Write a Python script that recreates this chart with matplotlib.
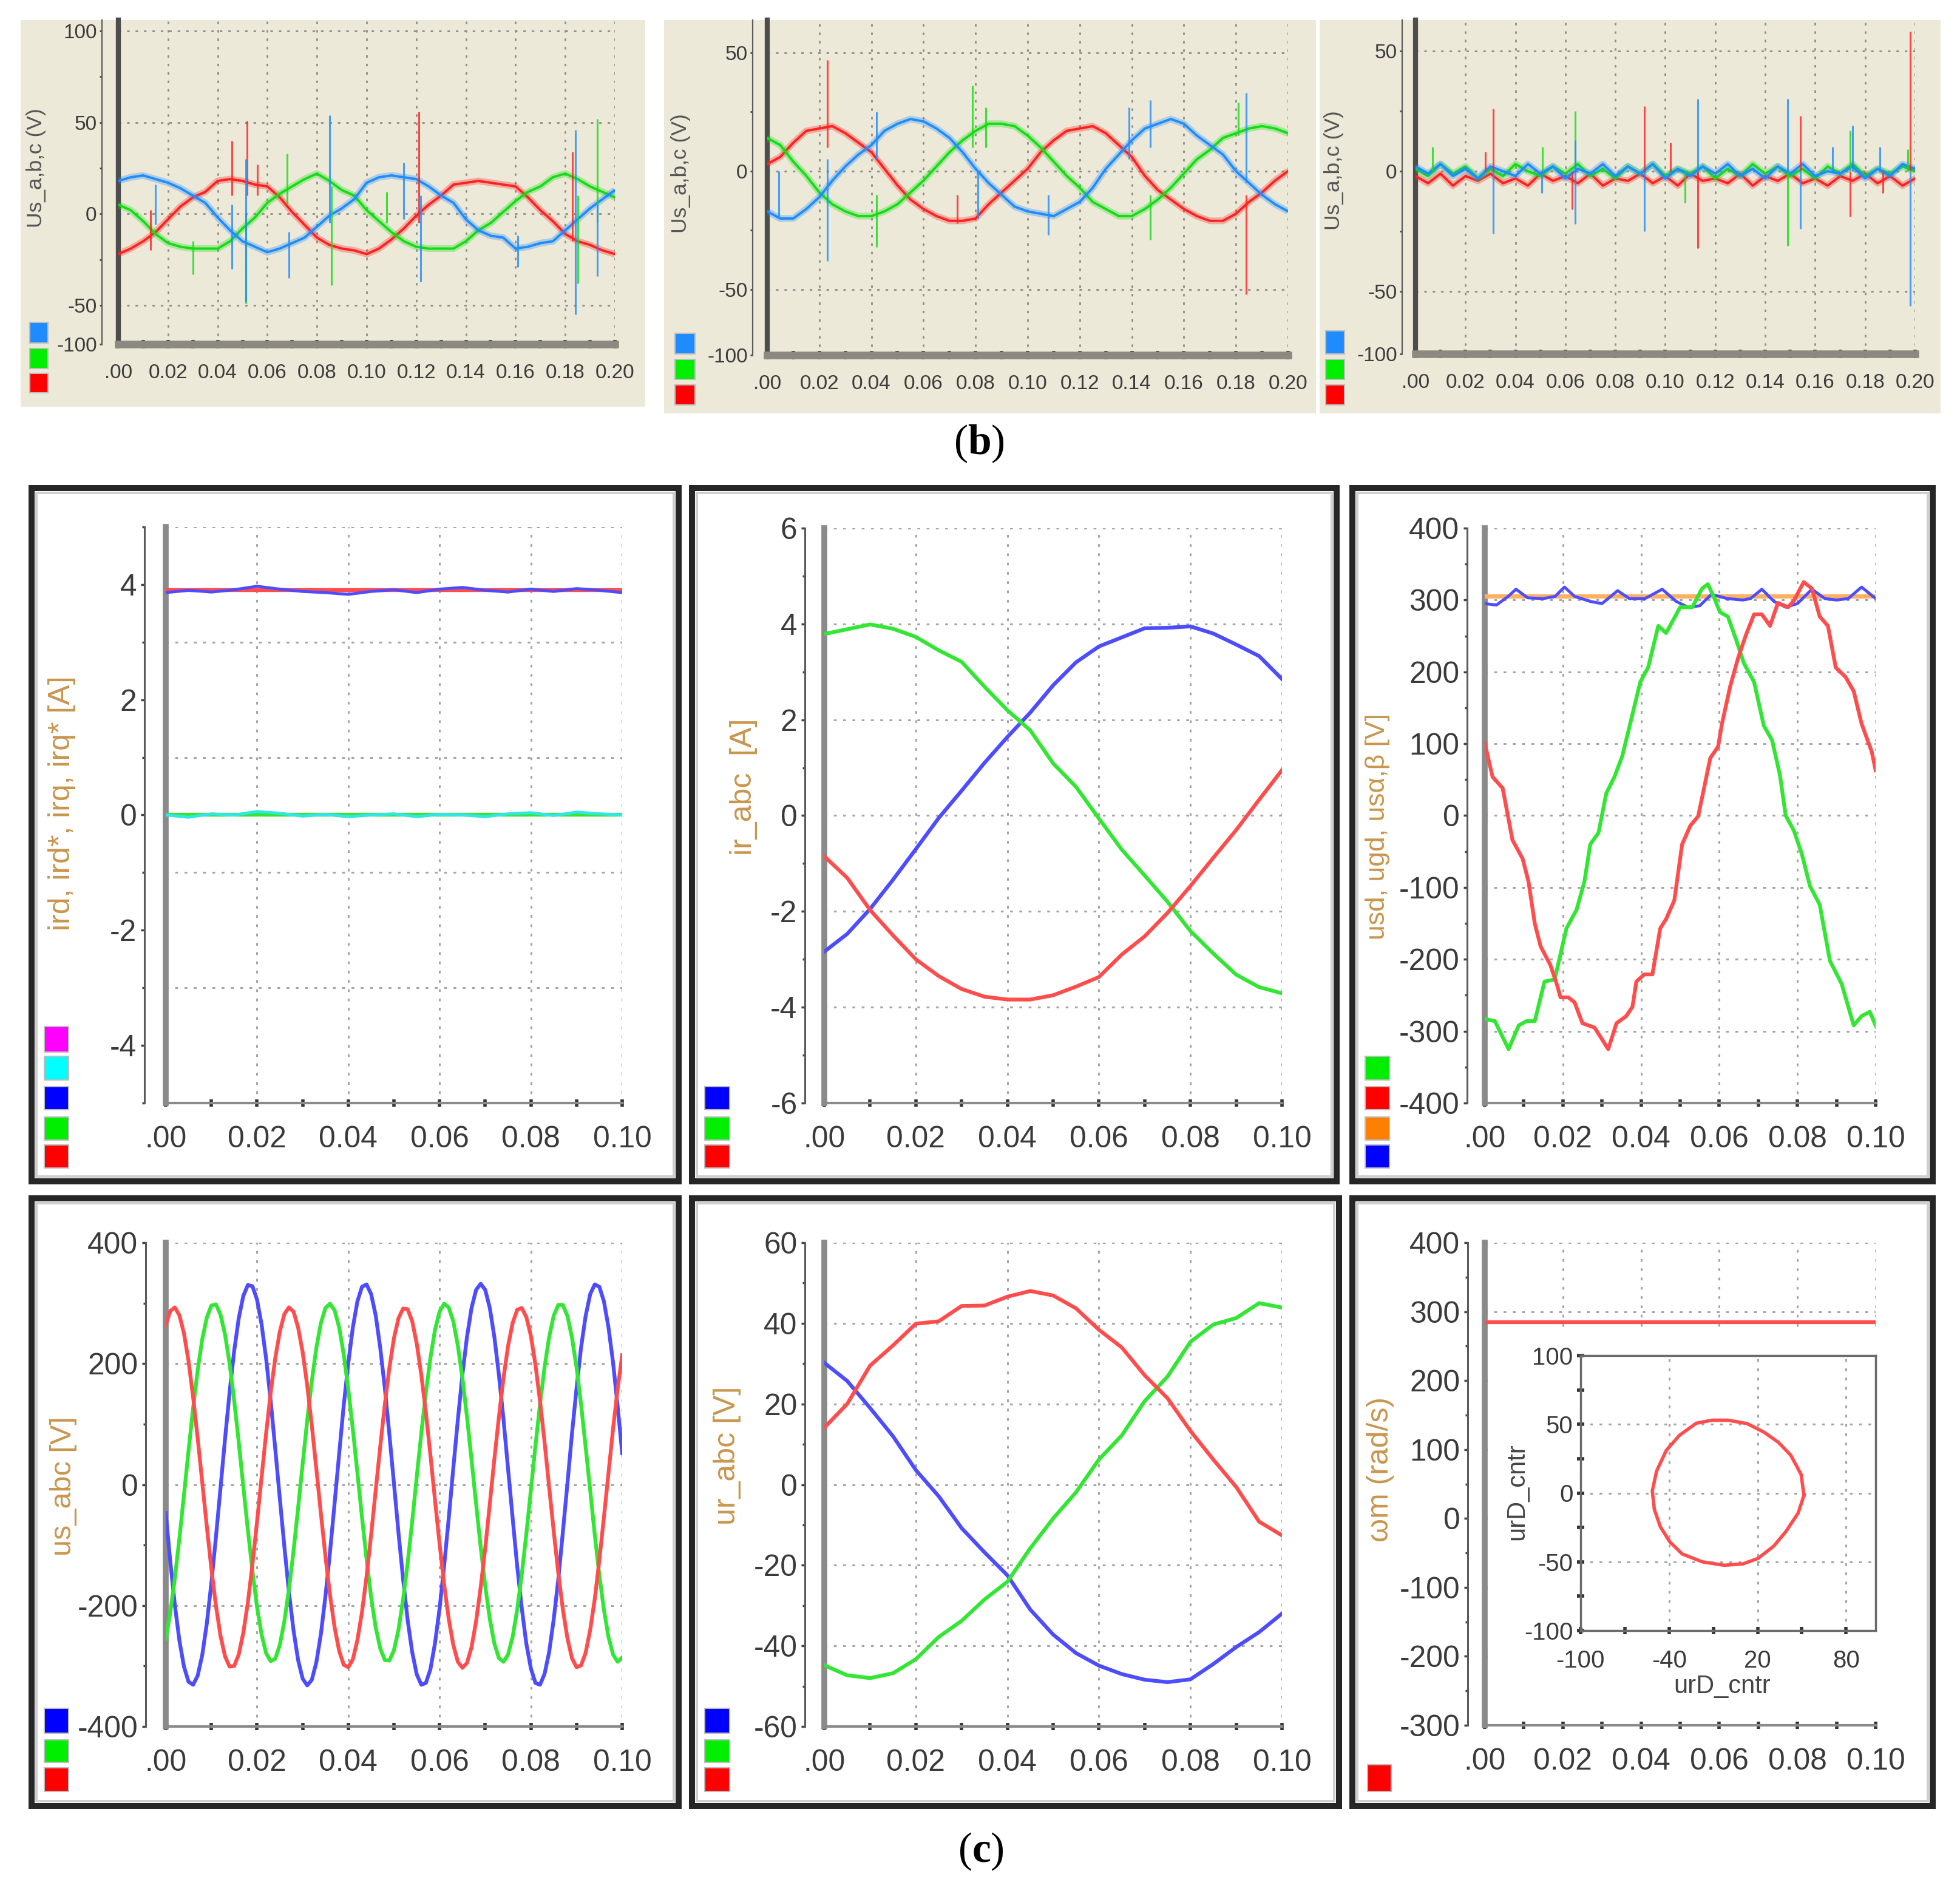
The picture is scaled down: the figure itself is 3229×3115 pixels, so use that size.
import matplotlib
matplotlib.use("Agg")
import matplotlib.pyplot as plt
import numpy as np
from matplotlib import font_manager
from matplotlib.patches import Rectangle

W, H = 3230, 3115
PX = 0.72  # points per pixel at dpi 100

_names = {f.name for f in font_manager.fontManager.ttflist}
if "Liberation Sans Narrow" in _names:
    TICK_FONT, TS, TSB = "Liberation Sans Narrow", 1.0, 1.0
else:
    TICK_FONT, TS, TSB = "Liberation Sans", 0.85, 0.96

plt.rcParams["font.family"] = [TICK_FONT, "DejaVu Sans"]
plt.rcParams["mathtext.fontset"] = "custom"
plt.rcParams["mathtext.rm"] = "Liberation Serif"
plt.rcParams["mathtext.bf"] = "Liberation Serif:bold"

# ---------------- (b) stator voltages, 0 .. 0.2 s ----------------
b_t = np.linspace(0, 0.2, 41)
b_xticks = [0, 0.02, 0.04, 0.06, 0.08, 0.10, 0.12, 0.14, 0.16, 0.18, 0.20]
b_xminor = [0.01, 0.03, 0.05, 0.07, 0.09, 0.11, 0.13, 0.15, 0.17, 0.19]
b_xlabels = [".00", "0.02", "0.04", "0.06", "0.08", "0.10", "0.12", "0.14", "0.16", "0.18", "0.20"]

b1_blue = [18, 20, 21, 19, 17, 14, 10, 6, -2, -9, -15, -18, -21, -19, -16, -13, -7, -1, 3, 8,
           17, 20, 21, 20, 19, 15, 10, 6, -3, -9, -12, -13, -19, -18, -16, -15, -9, -3, 3, 8, 13]
b1_red = [-22, -19, -15, -10, -3, 4, 9, 12, 18, 19, 18, 16, 15, 9, 1, -6, -13, -17, -19, -20,
          -22, -19, -14, -8, -1, 5, 10, 16, 17, 18, 17, 16, 15, 9, 2, -4, -11, -15, -17, -20, -22]
b1_green = [5, 2, -4, -11, -16, -18, -19, -19, -19, -15, -8, -2, 6, 11, 15, 19, 22, 18, 13, 10,
            2, -4, -10, -15, -18, -19, -19, -19, -15, -9, -5, 1, 7, 12, 15, 20, 22, 19, 15, 12, 9]

b2_red = [3, 6, 12, 17, 18, 19, 16, 12, 8, 1, -6, -12, -16, -19, -21, -21, -20, -14, -9, -4,
          1, 8, 13, 17, 18, 19, 16, 11, 6, -2, -8, -12, -16, -19, -21, -21, -18, -13, -9, -4, 0]
b2_blue = [-17, -20, -20, -16, -11, -4, 2, 7, 11, 17, 20, 22, 21, 18, 14, 8, 1, -5, -10, -15,
           -17, -18, -19, -16, -13, -7, 1, 7, 13, 18, 20, 22, 20, 15, 11, 7, 0, -5, -10, -14, -17]
b2_green = [14, 11, 4, -2, -9, -14, -17, -19, -19, -17, -14, -9, -4, 2, 8, 13, 17, 20, 20, 19,
            15, 10, 4, -2, -7, -13, -16, -19, -19, -16, -12, -7, -1, 5, 9, 14, 16, 18, 19, 18, 16]

b3_red = [-2, -5, -1, -6, -2, -4, -1, -5, -3, -6, -1, -4, -2, -5, -1, -6, -3, -4, -1, -5,
          -2, -6, -1, -4, -3, -5, -1, -6, -2, -4, -1, -5, -3, -6, -2, -4, -1, -5, -2, -6, -3]
b3_green = [1, -2, 3, -1, 2, -3, 1, -2, 3, 0, -2, 2, -1, 3, -2, 1, -3, 2, -1, 3,
            -2, 1, -1, 2, -3, 1, -2, 3, -1, 2, -2, 1, -3, 2, -1, 3, -2, 1, -1, 2, 0]
b3_blue = [2, -1, 3, -2, 1, -3, 2, 0, -2, 3, -1, 2, -3, 1, -1, 3, -2, 2, -1, 3,
           -3, 1, -2, 2, -1, 3, -2, 1, -3, 2, -1, 3, -2, 0, -1, 2, -3, 1, -2, 3, 1]

# switching spikes: (time, low, high)
b1_blue_spk = [(0.015, -6, 16), (0.0458, -30, 5), (0.0514, -48, 30), (0.0686, -35, -10), (0.085, -5, 54),
               (0.115, -3, 28), (0.1217, -37, 10), (0.161, -29, -12), (0.184, -55, 46), (0.193, -34, 5)]
b1_red_spk = [(0.013, -20, 2), (0.0458, 10, 40), (0.0518, 10, 51), (0.056, 10, 27), (0.121, -5, 56),
              (0.183, -15, 34)]
b1_green_spk = [(0.030, -33, -15), (0.0514, -49, 0), (0.068, 5, 33), (0.0857, -39, 15), (0.108, -5, 12),
                (0.185, -38, 10), (0.193, -5, 52)]

b2_blue_spk = [(0.0045, -20, 0), (0.023, -38, 5), (0.042, 5, 25), (0.081, -20, 0), (0.108, -27, -10),
               (0.139, 5, 27), (0.147, 10, 30), (0.184, -5, 33)]
b2_red_spk = [(0.023, 10, 47), (0.073, -22, -10), (0.184, -52, -10)]
b2_green_spk = [(0.042, -32, -10), (0.0787, 10, 36), (0.084, 10, 27), (0.147, -29, -10), (0.181, 15, 29)]

b3_blue_spk = [(0.031, -26, 0), (0.0505, -9, 0), (0.064, -22, 13), (0.0915, -25, 0), (0.113, 0, 30),
               (0.149, 0, 30), (0.154, -24, 0), (0.167, 0, 10), (0.175, 0, 19), (0.186, 0, 10), (0.198, -56, 0)]
b3_red_spk = [(0.028, 0, 8), (0.031, 0, 26), (0.0628, -16, 0), (0.0915, 0, 27), (0.102, 0, 12),
              (0.113, -32, 0), (0.154, 0, 23), (0.174, -19, 0), (0.187, -9, 0), (0.198, 0, 58)]
b3_green_spk = [(0.0067, 0, 10), (0.0509, 0, 10), (0.064, 0, 25), (0.108, -13, 0), (0.149, -31, 0),
                (0.174, 0, 17), (0.197, 0, 9)]

# ---------------- (c) rotor/stator quantities, 0 .. 0.1 s ----------------
c_xticks = [0, 0.02, 0.04, 0.06, 0.08, 0.10]
c_xminor = [0.01, 0.03, 0.05, 0.07, 0.09]
c_xlabels = [".00", "0.02", "0.04", "0.06", "0.08", "0.10"]
c_t21 = np.linspace(0, 0.1, 21)
c_t101 = np.linspace(0, 0.1, 101)
c_flat_t = [0, 0.1]

c1_blue = [3.86, 3.9, 3.87, 3.91, 3.97, 3.92, 3.88, 3.86, 3.83, 3.88, 3.91, 3.86, 3.92, 3.95, 3.9,
           3.87, 3.92, 3.88, 3.93, 3.9, 3.86]
c1_cyan = [0.0, -0.04, 0.02, 0.0, 0.06, 0.03, -0.02, 0.01, -0.03, 0.0, 0.02, -0.03, 0.01, 0.0, -0.03,
           0.02, 0.04, -0.01, 0.05, 0.02, 0.0]
c1_red = [3.9, 3.9]
c1_magenta = [3.9, 3.9]
c1_green = [0.0, 0.0]

c2_green = [3.79, 3.89, 3.99, 3.90, 3.73, 3.45, 3.21, 2.69, 2.20, 1.78, 1.09, 0.60, -0.06, -0.71,
            -1.25, -1.80, -2.41, -2.88, -3.32, -3.58, -3.71]
c2_blue = [-2.84, -2.47, -1.95, -1.34, -0.70, -0.05, 0.52, 1.10, 1.64, 2.15, 2.72, 3.20, 3.53, 3.72,
           3.91, 3.92, 3.95, 3.80, 3.57, 3.33, 2.85]
c2_red = [-0.85, -1.30, -1.97, -2.50, -3.00, -3.35, -3.62, -3.78, -3.84, -3.84, -3.75, -3.57, -3.37,
          -2.90, -2.52, -2.03, -1.47, -0.88, -0.30, 0.33, 0.95]

c3_green_t = [0, 0.0026, 0.0061, 0.0087, 0.0107, 0.0128, 0.0153, 0.0179, 0.0209, 0.0235, 0.0255, 0.027,
              0.0291, 0.0311, 0.0332, 0.0352, 0.0378, 0.0398, 0.0418, 0.0444, 0.0464, 0.048, 0.05, 0.0531,
              0.0556, 0.0571, 0.0587, 0.0602, 0.0622, 0.0643, 0.0663, 0.0689, 0.0714, 0.0735, 0.0755, 0.077,
              0.0791, 0.0811, 0.0832, 0.0857, 0.0883, 0.0913, 0.0944, 0.0964, 0.0985, 0.1]
c3_green = [-283, -286, -325, -292, -286, -286, -231, -228, -157, -131, -92, -40, -24, 31, 54, 83, 141,
            186, 206, 264, 254, 270, 290, 290, 316, 322, 303, 283, 277, 245, 212, 186, 125, 105, 57, 0,
            -21, -53, -98, -124, -202, -234, -292, -279, -273, -292]
c3_red_t = [0, 0.002, 0.0046, 0.0071, 0.0097, 0.0112, 0.0128, 0.0143, 0.0168, 0.0184, 0.0194, 0.0214,
            0.023, 0.025, 0.0281, 0.0316, 0.0337, 0.0362, 0.0378, 0.0388, 0.0408, 0.0429, 0.0449, 0.0464,
            0.0485, 0.0505, 0.0526, 0.0546, 0.0561, 0.0577, 0.0597, 0.0607, 0.0628, 0.0648, 0.0668, 0.0689,
            0.0709, 0.073, 0.075, 0.0776, 0.0791, 0.0816, 0.0837, 0.0857, 0.0878, 0.0898, 0.0923, 0.0944,
            0.0964, 0.099, 0.1]
c3_red = [101, 54, 38, -34, -60, -92, -150, -182, -208, -234, -253, -253, -260, -289, -295, -325, -289,
          -279, -266, -231, -221, -221, -157, -144, -118, -40, -14, -1, 38, 80, 96, 128, 180, 219, 251,
          280, 280, 264, 296, 290, 299, 325, 316, 277, 264, 206, 193, 173, 128, 89, 63]
c3_blue_t = [0, 0.003, 0.006, 0.008, 0.011, 0.015, 0.018, 0.0204, 0.023, 0.027, 0.030, 0.034, 0.037,
             0.041, 0.0454, 0.049, 0.052, 0.055, 0.058, 0.062, 0.066, 0.068, 0.0709, 0.074, 0.077, 0.080,
             0.0837, 0.087, 0.090, 0.093, 0.0964, 0.1]
c3_blue = [295, 293, 305, 315, 303, 302, 305, 318, 305, 298, 295, 313, 302, 302, 315, 298, 290, 292, 308,
           302, 300, 302, 315, 298, 290, 295, 315, 302, 300, 302, 318, 302]
c3_orange = [305, 305]

# stator phase voltages, one reading per millisecond
c4_blue = [-47, -127, -199, -258, -301, -326, -331, -316, -282, -230,
           -163, -87, -6, 76, 153, 221, 275, 312, 330, 328,
           306, 265, 208, 138, 59, -23, -103, -178, -241, -290,
           -321, -332, -323, -294, -247, -184, -111, -31, 51, 131,
           201, 260, 303, 327, 331, 315, 280, 226, 160, 83,
           2, -80, -156, -224, -277, -314, -331, -328, -305, -262,
           -205, -134, -56, 27, 107, 182, 244, 292, 322, 332,
           322, 292, 244, 181, 108, 26, -55, -135, -204, -263,
           -304, -328, -331, -313, -277, -223, -157, -79, 1, 84,
           159, 227, 279, 315, 331, 327, 303, 260, 202, 130, 52]
c4_red = [264, 287, 293, 280, 250, 204, 145, 77, 4, -69,
          -139, -200, -250, -284, -301, -300, -281, -245, -195, -132,
          -62, 12, 85, 152, 209, 253, 282, 293, 286, 260,
          219, 164, 98, 26, -48, -119, -183, -236, -275, -298,
          -302, -289, -257, -211, -152, -83, -10, 63, 132, 193,
          242, 275, 291, 290, 270, 233, 181, 119, 48, -26,
          -98, -165, -222, -265, -293, -303, -295, -269, -226, -170,
          -105, -32, 42, 112, 176, 229, 267, 289, 292, 277,
          246, 198, 138, 70, -4, -77, -146, -206, -254, -287,
          -302, -299, -278, -240, -189, -125, -54, 19, 92, 158, 214]
c4_green = [-255, -212, -155, -89, -17, 56, 126, 189, 240, 276,
            296, 298, 281, 248, 200, 139, 70, -3, -75, -143,
            -202, -248, -279, -292, -288, -265, -226, -173, -110, -39,
            34, 106, 171, 226, 267, 292, 299, 288, 260, 215,
            158, 91, 19, -54, -123, -186, -236, -271, -290, -291,
            -274, -240, -190, -130, -61, 13, 85, 152, 210, 256,
            286, 299, 293, 270, 230, 176, 112, 41, -32, -103,
            -168, -222, -263, -287, -293, -281, -252, -207, -149, -82,
            -9, 64, 133, 194, 244, 279, 297, 297, 279, 243,
            194, 132, 62, -10, -83, -150, -207, -252, -281, -293, -286]

c5_red = [14.1, 20.0, 29.5, 34.5, 39.9, 40.5, 44.3, 44.4, 46.6, 48.0, 46.9, 43.7, 38.4, 34.0, 27.1,
          21.4, 13.3, 6.2, -0.6, -9.2, -12.6]
c5_green = [-44.8, -47.3, -48.0, -46.8, -43.3, -37.8, -33.8, -28.5, -24.1, -15.8, -8.4, -1.9, 6.2, 12.2,
            20.7, 26.8, 35.4, 39.7, 41.3, 45.0, 43.9]
c5_blue = [30.2, 25.7, 19.0, 12.0, 3.6, -2.9, -10.8, -16.8, -22.5, -31.0, -37.2, -41.8, -44.9, -47.0,
           -48.4, -49.0, -48.3, -44.5, -40.3, -36.6, -32.0]

c6_speed = [285, 285]
circle_x = [51.4, 49.5, 42.5, 34, 24.3, 13, 0, -11, -21.6, -33, -41.9, -48.5, -51.4, -50, -45.9, -39.5,
            -31.1, -17.5, -2.7, 10, 20.3, 31, 39.2, 47.5, 51.4]
circle_y = [-1.6, 13.5, 27.5, 37, 44.3, 50.5, 53, 53, 50.8, 42, 31.1, 16, 1.6, -12, -24.6, -35.5,
            -44.3, -50, -52.5, -51.5, -47.5, -38.5, -27.9, -14.5, -1.6]
inset_xticks = [-100, -40, 20, 80]
inset_xminor = [-70, -10, 50]
inset_yticks = [100, 50, 0, -50, -100]
inset_yminor = [75, 25, -25, -75]

# colours
B_BLUE, B_GREEN, B_RED = "#1e8cff", "#14dc14", "#ff2020"
C_RED, C_GREEN, C_BLUE = "#ff4d4d", "#33e633", "#4d4dff"
C_CYAN, C_MAGENTA, C_ORANGE = "#33e6e6", "#ff33ff", "#ffb060"
SW = dict(red="#ff0000", green="#00ee00", blue="#0000ff", cyan="#00ffff", magenta="#ff00ff",
          orange="#ff8000", bblue="#1e8cff")
BEIGE = "#ece9d8"
LABEL_C = "#c8964e"

fig = plt.figure(figsize=(W / 100, H / 100), dpi=100)
fig.patch.set_facecolor("white")


def px_rect(x0, y0, x1, y1, **kw):
    fig.add_artist(Rectangle((x0 / W, 1 - y1 / H), (x1 - x0) / W, (y1 - y0) / H,
                             transform=fig.transFigure, **kw))


def px_axes(x0, y0, x1, y1):
    return fig.add_axes([x0 / W, 1 - y1 / H, (x1 - x0) / W, (y1 - y0) / H])


def px_text(x, y, s, **kw):
    fig.text(x / W, 1 - y / H, s, **kw)


def swatches(xs, ys, colors):
    for (ya, yb), c in zip(ys, colors):
        px_rect(xs[0], ya, xs[1], yb, facecolor=c, edgecolor="#bdbdbd", lw=1.5)


# ---------------- (b) panels ----------------
B_CFG = [
    dict(box=(34, 33, 1063, 670), area=(195, 33, 1013, 567), ylim=(-71.3, 106),
         yt=[-71.3, -50, 0, 50, 100], ytl=["-100", "-50", "0", "50", "100"], ymin=[75, 25, -25],
         spine=27, sw_x=(49, 79), sw_y=[(531, 565), (574, 607), (615, 647)], lab=(60, 277)),
    dict(box=(1094, 33, 2168, 681), area=(1264, 33, 2122, 585), ylim=(-77.7, 63.8),
         yt=[-77.7, -50, 0, 50], ytl=["-100", "-50", "0", "50"], ymin=[25, -25],
         spine=24, sw_x=(1112, 1145), sw_y=[(549, 583), (592, 625), (634, 667)], lab=(1122, 286)),
    dict(box=(2174, 33, 3197, 681), area=(2332, 33, 3155, 583), ylim=(-76, 62.9),
         yt=[-76, -50, 0, 50], ytl=["-100", "-50", "0", "50"], ymin=[25, -25],
         spine=22, sw_x=(2184, 2215), sw_y=[(545, 583), (592, 625), (634, 667)], lab=(2198, 281)),
]
B_SERIES = [
    [(b1_red, B_RED), (b1_green, B_GREEN), (b1_blue, B_BLUE)],
    [(b2_red, B_RED), (b2_green, B_GREEN), (b2_blue, B_BLUE)],
    [(b3_red, B_RED), (b3_green, B_GREEN), (b3_blue, B_BLUE)],
]
B_SPIKES = [
    [(b1_red_spk, B_RED), (b1_green_spk, B_GREEN), (b1_blue_spk, B_BLUE)],
    [(b2_red_spk, B_RED), (b2_green_spk, B_GREEN), (b2_blue_spk, B_BLUE)],
    [(b3_red_spk, B_RED), (b3_green_spk, B_GREEN), (b3_blue_spk, B_BLUE)],
]

for cfg, series, spikes in zip(B_CFG, B_SERIES, B_SPIKES):
    px_rect(*cfg["box"], facecolor=BEIGE, edgecolor="none", zorder=-1)
    ax = px_axes(*cfg["area"])
    ax.set_facecolor("none")
    ax.set_xlim(0, 0.2)
    ax.set_ylim(*cfg["ylim"])
    ax.set_axisbelow(True)
    for s in ("top", "right"):
        ax.spines[s].set_visible(False)
    ax.spines["left"].set_position(("outward", cfg["spine"] * PX))
    ax.spines["left"].set_color("#5c5c5c")
    ax.spines["left"].set_linewidth(1.6)
    ax.spines["bottom"].set_color("#8c8a80")
    ax.spines["bottom"].set_linewidth(9)
    ax.set_xticks(b_xticks, b_xlabels)
    ax.set_xticks(b_xminor, minor=True)
    ax.set_yticks(cfg["yt"], cfg["ytl"])
    ax.set_yticks(cfg["ymin"], minor=True)
    ax.tick_params(axis="x", which="both", direction="inout", length=10, width=4, color="#3a3a3a",
                   pad=18, labelsize=25 * TSB, labelcolor="#3c3c3c")
    ax.tick_params(axis="y", which="both", direction="out", length=3, width=2, color="#4a4a4a",
                   pad=3, labelsize=25 * TSB, labelcolor="#3c3c3c")
    ax.grid(True, which="major", ls=(0, (1.5, 3.5)), color="#8f8f8a", lw=2)
    ax.axvline(0, color="#4d4d4d", lw=6, zorder=2, clip_on=False)
    for vals, c in series:
        ax.plot(b_t, vals, color=c, lw=8, alpha=0.3, zorder=3, solid_capstyle="butt")
        ax.plot(b_t, vals, color=c, lw=2.8, zorder=3)
    for spk, c in spikes:
        ts, lo, hi = zip(*spk)
        ax.vlines(ts, lo, hi, color=c, lw=2.2, alpha=0.8, zorder=3)
    px_text(*cfg["lab"], "Us_a,b,c (V)", rotation=90, ha="center", va="center",
            fontsize=30 * TS, color="#555555")
    swatches(cfg["sw_x"], cfg["sw_y"], [SW["bblue"], SW["green"], SW["red"]])

px_text(1613, 731, "(" + r"$\mathbf{b}$" + ")", ha="center", va="center", fontsize=50,
        family="Liberation Serif", color="black")


# ---------------- (c) panels ----------------
def c_panel(cfg, series):
    x0, y0, x1, y1 = cfg["frame"]
    px_rect(x0 + 5, y0 + 5, x1 - 5, y1 - 5, facecolor="white", edgecolor="#262626", lw=10 * PX, zorder=-1)
    px_rect(x0 + 13, y0 + 13, x1 - 13, y1 - 13, facecolor="none", edgecolor="#cfcfcf", lw=4 * PX, zorder=-1)
    ax = px_axes(*cfg["area"])
    ax.set_facecolor("none")
    ax.set_xlim(0, 0.1)
    ax.set_ylim(*cfg["ylim"])
    ax.set_axisbelow(True)
    for s in ("top", "right"):
        ax.spines[s].set_visible(False)
    ax.spines["left"].set_position(("outward", cfg["spine"] * PX))
    ax.spines["left"].set_color("#5a5a5a")
    ax.spines["left"].set_linewidth(2.2)
    ax.spines["bottom"].set_color("#8a8a8a")
    ax.spines["bottom"].set_linewidth(3)
    ax.set_xticks(c_xticks, c_xlabels)
    ax.set_xticks(c_xminor, minor=True)
    ax.set_yticks(cfg["yt"], [str(v) for v in cfg["yt"]])
    ax.set_yticks(cfg["ymin"], minor=True)
    ax.tick_params(axis="x", which="both", direction="inout", length=9, width=4, color="#333333",
                   pad=22, labelsize=42 * TS, labelcolor="#3a3a3a")
    ax.tick_params(axis="y", which="major", direction="out", length=4, width=2.5, color="#444444",
                   pad=5, labelsize=42 * TS, labelcolor="#3a3a3a")
    ax.tick_params(axis="y", which="minor", direction="out", length=3, width=2.5, color="#444444")
    grid_kw = dict(ls=(0, (1.5, 3.5)), color="#a5a5a5", lw=2.2)
    ax.xaxis.grid(True, which="major", **grid_kw)
    ax.yaxis.grid(True, which=cfg["grid"], **grid_kw)
    ax.axvline(0, color="#8a8a8a", lw=7, zorder=2, clip_on=False)
    for t, v, c, lw in series:
        ax.plot(t, v, color=c, lw=lw, zorder=3)
    px_text(*cfg["lab"], cfg["label"], rotation=90, ha="center", va="center",
            fontsize=cfg["lsize"], color=LABEL_C, family="Liberation Sans")
    swatches(cfg["sw_x"], cfg["sw_y"], [SW[k] for k in cfg["sw_c"]])
    return ax


SW5 = [(1691, 1733), (1740, 1779), (1790, 1828), (1840, 1878), (1886, 1924)]
C_CFG = [
    dict(frame=(47, 799, 1123, 1951), area=(273, 868, 1025, 1817), ylim=(-5, 5), yt=[4, 2, 0, -2, -4],
         ymin=[5, 3, 1, -1, -3, -5], grid="minor", spine=35, label="ird, ird*, irq, irq* [A]",
         lab=(102, 1323), lsize=36, sw_x=(73, 113), sw_y=SW5,
         sw_c=["magenta", "cyan", "blue", "green", "red"]),
    dict(frame=(1135, 799, 2207, 1951), area=(1358, 870, 2112, 1817), ylim=(-6, 6),
         yt=[6, 4, 2, 0, -2, -4, -6], ymin=[5, 3, 1, -1, -3, -5], grid="major", spine=32,
         label="ir_abc  [A]", lab=(1225, 1296), lsize=36, sw_x=(1161, 1202), sw_y=SW5[2:],
         sw_c=["blue", "green", "red"]),
    dict(frame=(2223, 799, 3189, 1951), area=(2446, 870, 3090, 1817), ylim=(-400, 400),
         yt=[400, 300, 200, 100, 0, -100, -200, -300, -400],
         ymin=[350, 250, 150, 50, -50, -150, -250, -350], grid="major", spine=29,
         label="usd, ugd, usα,β [V]", lab=(2270, 1362), lsize=32, sw_x=(2249, 2289), sw_y=SW5[1:],
         sw_c=["green", "red", "orange", "blue"]),
    dict(frame=(47, 1969, 1123, 2980), area=(273, 2047, 1025, 2844), ylim=(-400, 400),
         yt=[400, 200, 0, -200, -400], ymin=[300, 100, -100, -300], grid="major", spine=33,
         label="us_abc [V]", lab=(105, 2448), lsize=35, sw_x=(73, 113),
         sw_y=[(2814, 2855), (2866, 2903), (2912, 2951)], sw_c=["blue", "green", "red"]),
    dict(frame=(1135, 1969, 2211, 2980), area=(1358, 2047, 2112, 2844), ylim=(-60, 60),
         yt=[60, 40, 20, 0, -20, -40, -60], ymin=[50, 30, 10, -10, -30, -50], grid="major", spine=32,
         label="ur_abc [V]", lab=(1198, 2398), lsize=36, sw_x=(1161, 1202),
         sw_y=[(2814, 2855), (2866, 2903), (2912, 2951)], sw_c=["blue", "green", "red"]),
    dict(frame=(2223, 1969, 3189, 2980), area=(2446, 2047, 3090, 2842), ylim=(-300, 400),
         yt=[400, 300, 200, 100, 0, -100, -200, -300],
         ymin=[350, 250, 150, 50, -50, -150, -250], grid="major", spine=28,
         label="ωm (rad/s)", lab=(2274, 2420), lsize=36, sw_x=(2253, 2292), sw_y=[(2907, 2951)],
         sw_c=["red"]),
]
LW = 4.5
C_SERIES = [
    [(c_flat_t, c1_magenta, C_MAGENTA, LW), (c_flat_t, c1_red, C_RED, LW), (c_t21, c1_blue, C_BLUE, 3.5),
     (c_flat_t, c1_green, C_GREEN, LW), (c_t21, c1_cyan, C_CYAN, 3.5)],
    [(c_t21, c2_blue, C_BLUE, LW), (c_t21, c2_green, C_GREEN, LW), (c_t21, c2_red, C_RED, LW)],
    [(c_flat_t, c3_orange, C_ORANGE, 5), (c3_blue_t, c3_blue, C_BLUE, 3.5),
     (c3_green_t, c3_green, C_GREEN, LW), (c3_red_t, c3_red, C_RED, LW)],
    [(c_t101, c4_blue, C_BLUE, LW), (c_t101, c4_green, C_GREEN, LW), (c_t101, c4_red, C_RED, LW)],
    [(c_t21, c5_blue, C_BLUE, LW), (c_t21, c5_green, C_GREEN, LW), (c_t21, c5_red, C_RED, LW)],
    [(c_flat_t, c6_speed, C_RED, LW)],
]

c_axes = [c_panel(cfg, series) for cfg, series in zip(C_CFG, C_SERIES)]

# the inset of the last panel hides the grid behind it
ax6 = c_axes[5]
ax6.add_patch(Rectangle((0.0012, -288), 0.0988, 563, facecolor="white", edgecolor="none", zorder=1))

axi = px_axes(2604, 2233, 3090, 2686)
axi.set_facecolor("white")
axi.set_xlim(-100, 100)
axi.set_ylim(-100, 100)
axi.set_axisbelow(True)
for s in axi.spines.values():
    s.set_color("#6a6a6a")
    s.set_linewidth(2.5)
axi.set_xticks(inset_xticks, [str(v) for v in inset_xticks])
axi.set_xticks(inset_xminor, minor=True)
axi.set_yticks(inset_yticks, [str(v) for v in inset_yticks])
axi.set_yticks(inset_yminor, minor=True)
axi.tick_params(axis="both", which="both", direction="inout", length=8, width=4, color="#333333",
                labelsize=34 * TS, labelcolor="#3a3a3a")
axi.tick_params(axis="x", pad=18)
axi.tick_params(axis="y", pad=5)
axi.grid(True, which="major", ls=(0, (1.5, 3.5)), color="#a5a5a5", lw=2.2)
axi.plot(circle_x, circle_y, color=C_RED, lw=4, zorder=3)
px_text(2499, 2457, "urD_cntr", rotation=90, ha="center", va="center", fontsize=30,
        color="#444444", family="Liberation Sans")
px_text(2837, 2778, "urD_cntr", ha="center", va="center", fontsize=30,
        color="#444444", family="Liberation Sans")

px_text(1616, 3050, "(" + r"$\mathbf{c}$" + ")", ha="center", va="center", fontsize=50,
        family="Liberation Serif", color="black")

fig.savefig("out.png", dpi=100, facecolor="white")
